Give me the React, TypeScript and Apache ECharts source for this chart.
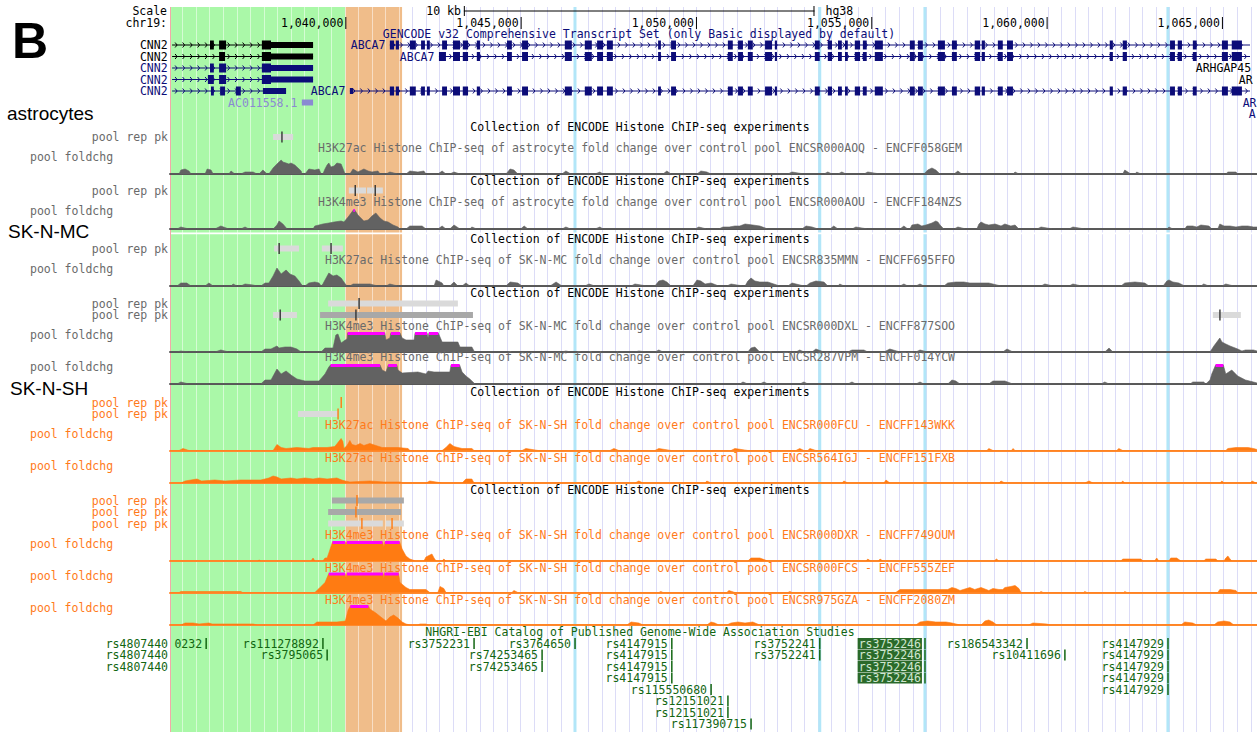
import React, { useEffect, useRef } from "react";
import * as echarts from "echarts";

// ---------------- DATA (chr19, hg38; positions in kb) ----------------
const VIEW_START_KB = 1035;
const VIEW_END_KB = 1066;
const RULER_TICKS_KB = [1040, 1045, 1050, 1055, 1060, 1065];
const SCALE_BAR_START_KB = 1043.38;
const SCALE_BAR_LENGTH_KB = 10;
const CHROM_LABEL = "chr19:";
const ASSEMBLY = "hg38";

const HIGHLIGHT_REGIONS = [
  { start: 1035.03, end: 1040.0, kind: "green" },
  { start: 1040.0, end: 1041.62, kind: "orange" },
];

// GENCODE v32 transcripts: exons as [start, end, coding(1)/utr(0)]
const ABCA7_5PRIME_EXONS = [
  [1041.27, 1041.39, 1], [1041.44, 1041.53, 1], [1041.84, 1042.01, 1], [1042.16, 1042.27, 1],
  [1042.33, 1042.41, 1], [1042.76, 1042.9, 1],
];
const ABCA7_SHARED_EXONS = [
  [1043.07, 1043.27, 1], [1043.35, 1043.5, 1], [1043.75, 1043.84, 1], [1044.61, 1044.75, 1],
  [1045.04, 1045.21, 1], [1046.26, 1046.46, 1], [1046.83, 1047.03, 1], [1047.18, 1047.35, 1],
  [1047.46, 1047.63, 1], [1048.92, 1049.0, 1], [1049.29, 1049.43, 1], [1050.91, 1051.05, 1],
  [1051.2, 1051.34, 1], [1051.48, 1051.62, 1], [1051.97, 1052.17, 1], [1052.25, 1052.31, 1],
  [1053.39, 1053.53, 1], [1053.76, 1053.88, 1], [1054.05, 1054.16, 1], [1054.25, 1054.33, 1],
  [1054.53, 1054.68, 1], [1054.76, 1054.87, 1], [1055.1, 1055.33, 1], [1056.1, 1056.24, 1],
  [1056.33, 1056.47, 1], [1056.9, 1057.1, 1], [1057.3, 1057.44, 1], [1057.95, 1058.1, 1],
  [1058.15, 1058.24, 1], [1058.61, 1058.75, 1], [1058.87, 1059.04, 1], [1061.8, 1061.89, 1],
  [1062.17, 1062.29, 1], [1063.52, 1063.66, 1], [1063.74, 1063.86, 1], [1064.17, 1064.28, 1],
  [1065.0, 1065.17, 1], [1065.28, 1065.57, 1],
];
const TRANSCRIPTS = [
  { name: "CNN2", row: 0, tag: "principal", start: 1035.06, end: 1039.08,
    exons: [[1036.14, 1036.25, 1], [1036.4, 1036.6, 1], [1037.62, 1037.88, 1], [1037.88, 1039.08, 0]] },
  { name: "CNN2", row: 1, tag: "principal", start: 1035.06, end: 1039.08,
    exons: [[1036.4, 1036.57, 1], [1037.62, 1037.88, 1], [1037.88, 1039.08, 0]] },
  { name: "CNN2", row: 2, tag: "basic", start: 1035.06, end: 1039.08,
    exons: [[1036.14, 1036.25, 1], [1036.4, 1036.6, 1], [1037.62, 1037.88, 1], [1037.88, 1039.08, 0]] },
  { name: "CNN2", row: 3, tag: "basic", start: 1035.06, end: 1039.08,
    exons: [[1036.08, 1036.25, 1], [1036.4, 1036.6, 1], [1037.62, 1037.88, 1], [1037.88, 1039.08, 0]] },
  { name: "CNN2", row: 4, tag: "basic", start: 1035.06, end: 1038.31,
    exons: [[1036.17, 1036.25, 1], [1036.43, 1036.57, 1], [1036.88, 1037.02, 1], [1037.65, 1038.31, 0]] },
  { name: "AC011558.1", row: 5, tag: "noncoding", start: 1038.76, end: 1039.08,
    exons: [[1038.76, 1039.08, 0]] },
  { name: "ABCA7", row: 0, tag: "basic", start: 1041.27, end: 1065.8,
    exons: [...ABCA7_5PRIME_EXONS, ...ABCA7_SHARED_EXONS] },
  { name: "ABCA7", row: 1, tag: "basic", start: 1042.67, end: 1065.8,
    exons: [[1042.67, 1042.87, 1], ...ABCA7_SHARED_EXONS] },
  { name: "ABCA7", row: 4, tag: "basic", start: 1040.13, end: 1065.8,
    exons: [[1040.13, 1040.22, 0], ...ABCA7_5PRIME_EXONS, ...ABCA7_SHARED_EXONS] },
  { name: "ARHGAP45", row: 2, tag: "principal", start: 1065.96, end: 1069, exons: [] },
  { name: "ARHGAP45", row: 3, tag: "principal", start: 1067.19, end: 1069, exons: [] },
  { name: "ARHGAP45", row: 5, tag: "basic", start: 1067.3, end: 1069, exons: [] },
  { name: "ARHGAP45", row: 6, tag: "basic", start: 1067.47, end: 1069, exons: [] },
];

// ENCODE histone ChIP-seq tracks
const TRACK_TITLES = [
  "H3K27ac Histone ChIP-seq of astrocyte fold change over control pool ENCSR000AOQ - ENCFF058GEM",
  "H3K4me3 Histone ChIP-seq of astrocyte fold change over control pool ENCSR000AOU - ENCFF184NZS",
  "H3K27ac Histone ChIP-seq of SK-N-MC fold change over control pool ENCSR835MMN - ENCFF695FFO",
  "H3K4me3 Histone ChIP-seq of SK-N-MC fold change over control pool ENCSR000DXL - ENCFF877SOO",
  "H3K4me3 Histone ChIP-seq of SK-N-MC fold change over control pool ENCSR287VPM - ENCFF014YCW",
  "H3K27ac Histone ChIP-seq of SK-N-SH fold change over control pool ENCSR000FCU - ENCFF143WKK",
  "H3K27ac Histone ChIP-seq of SK-N-SH fold change over control pool ENCSR564IGJ - ENCFF151FXB",
  "H3K4me3 Histone ChIP-seq of SK-N-SH fold change over control pool ENCSR000DXR - ENCFF749OUM",
  "H3K4me3 Histone ChIP-seq of SK-N-SH fold change over control pool ENCSR000FCS - ENCFF555ZEF",
  "H3K4me3 Histone ChIP-seq of SK-N-SH fold change over control pool ENCSR975GZA - ENCFF2080ZM",
];
const TRACK_CELL = ["astrocyte", "astrocyte", "SK-N-MC", "SK-N-MC", "SK-N-MC",
  "SK-N-SH", "SK-N-SH", "SK-N-SH", "SK-N-SH", "SK-N-SH"];
const CELL_GROUP_LABELS = ["astrocytes", "SK-N-MC", "SK-N-SH"];
const COLLECTION_TITLE = "Collection of ENCODE Histone ChIP-seq experiments";
const COLLECTION_START_TRACKS = [0, 1, 2, 3, 5, 7];
const SIGNAL_MAX = 19; // view limit of fold change

const SIG_1 = [[1035,0],[1035.26,0],[1035.31,4],[1035.43,5],[1035.54,3],[1035.6,0],[1036,0],[1036.06,5],[1036.17,4],[1036.23,0],[1036.68,0],[1036.74,3],[1036.85,0],[1037.02,0],[1037.14,2],[1037.37,2],[1037.48,0],[1037.54,0],[1037.65,4],[1037.77,0],[1037.82,0],[1037.94,6],[1038.05,10],[1038.17,14],[1038.22,12],[1038.31,11],[1038.39,10],[1038.45,11],[1038.56,9],[1038.62,7],[1038.74,3],[1038.76,0],[1038.85,0],[1038.96,5],[1039.13,4],[1039.25,5],[1039.31,0],[1039.36,0],[1039.42,5],[1039.48,9],[1039.53,11],[1039.59,7],[1039.68,8],[1039.76,11],[1039.88,10],[1039.96,3],[1039.99,0],[1040.13,0],[1040.22,5],[1040.36,2],[1040.53,5],[1040.65,3],[1040.76,2],[1040.93,3],[1040.99,0],[1041.16,0],[1041.27,2],[1041.5,0],[1041.73,0],[1041.84,3],[1042.07,2],[1042.24,3],[1042.3,0],[1042.64,0],[1042.76,3],[1042.87,0],[1042.98,0],[1043.1,2],[1043.27,0],[1044.58,0],[1044.7,5],[1044.81,4],[1044.92,0],[1046.18,0],[1046.29,3],[1046.43,0],[1047.12,0],[1047.26,2],[1047.35,0],[1049.06,0],[1049.17,3],[1049.29,0],[1050.03,0],[1050.14,3],[1050.31,2],[1050.43,0],[1052.62,0],[1052.74,2],[1053.08,0],[1053.65,0],[1053.76,2],[1053.88,0],[1054.05,0],[1054.16,2],[1054.28,0],[1054.79,0],[1054.9,2],[1055.25,0],[1056.5,0],[1056.61,4],[1056.73,6],[1056.84,4],[1056.96,0],[1057.36,0],[1057.47,3],[1057.58,0],[1059.04,0],[1059.1,2],[1059.21,0],[1062.17,0],[1062.23,4],[1062.4,0],[1062.52,0],[1062.57,2],[1062.69,0],[1065.11,0],[1065.17,2],[1065.4,2],[1065.45,0],[1066,0]];
const SIG_2 = [[1035,0],[1035.2,0],[1035.31,2],[1035.54,0],[1036.28,0],[1036.45,3],[1036.68,0],[1037.02,0],[1037.14,2],[1037.25,0],[1037.94,0],[1038.05,4],[1038.11,8],[1038.22,5],[1038.34,0],[1039.08,0],[1039.13,3],[1039.25,4],[1039.36,5],[1039.53,6],[1039.68,7],[1039.88,8],[1039.96,7],[1040.08,12],[1040.25,20],[1040.36,14],[1040.47,10],[1040.53,8],[1040.65,9],[1040.76,13],[1040.87,16],[1040.99,11],[1041.1,8],[1041.22,7],[1041.36,4],[1041.5,2],[1041.56,0],[1041.73,0],[1041.84,3],[1042.19,3],[1042.3,0],[1042.64,0],[1042.76,3],[1042.87,0],[1042.98,0],[1043.1,4],[1043.27,0],[1043.55,0],[1043.61,2],[1043.75,0],[1045,0],[1045.1,3],[1045.21,0],[1046.18,0],[1046.29,2],[1046.43,0],[1047.12,0],[1047.26,2],[1047.35,0],[1049.97,0],[1050.08,2],[1050.31,0],[1050.65,0],[1050.77,2],[1050.95,2],[1051.11,3],[1051.25,3],[1051.4,5],[1051.62,4],[1051.82,3],[1052.05,0],[1053.02,0],[1053.14,3],[1053.31,2],[1053.48,0],[1053.82,0],[1053.93,3],[1054.05,0],[1054.45,0],[1054.56,2],[1054.9,0],[1055.82,0],[1055.93,3],[1056.04,0],[1056.1,0],[1056.16,4],[1056.33,5],[1056.44,3],[1056.56,4],[1056.73,6],[1056.84,8],[1056.9,7],[1056.96,4],[1057.07,0],[1057.36,0],[1057.47,2],[1057.7,0],[1058.01,0],[1058.07,5],[1058.13,7],[1058.24,5],[1058.35,4],[1058.53,5],[1058.7,3],[1058.81,5],[1058.98,3],[1059.1,4],[1059.21,0],[1059.73,0],[1059.84,2],[1060.18,0],[1060.64,0],[1060.75,2],[1061.09,0],[1063.43,0],[1063.49,2],[1063.6,0],[1063.94,0],[1064,3],[1064.17,3],[1064.28,2],[1064.4,4],[1064.63,3],[1064.71,0],[1064.88,0],[1064.94,5],[1065.06,3],[1065.23,3],[1065.4,2],[1065.57,3],[1065.74,3],[1065.9,2],[1066,2]];
const SIG_3 = [[1035,0],[1035.2,0],[1035.31,3],[1035.48,3],[1035.6,0],[1036,0],[1036.11,3],[1036.23,0],[1036.74,0],[1036.8,2],[1036.91,0],[1037.02,0],[1037.14,2],[1037.37,1],[1037.48,0],[1037.59,0],[1037.71,3],[1037.82,3],[1037.94,10],[1038.05,18],[1038.17,12],[1038.31,16],[1038.42,12],[1038.56,10],[1038.68,5],[1038.76,1],[1038.8,0],[1038.85,0],[1038.96,3],[1039.13,4],[1039.25,3],[1039.31,0],[1039.36,2],[1039.42,6],[1039.53,13],[1039.65,10],[1039.76,11],[1039.88,8],[1040,2],[1040.05,0],[1040.13,0],[1040.22,2],[1040.7,2],[1040.93,0],[1041.16,0],[1041.27,2],[1041.5,0],[1042.53,0],[1042.59,6],[1042.76,3],[1042.81,0],[1042.98,0],[1043.1,4],[1043.21,0],[1043.33,0],[1043.44,3],[1043.55,0],[1044.58,0],[1044.7,4],[1044.92,3],[1045.04,0],[1045.84,0],[1046.01,4],[1046.18,0],[1046.83,0],[1046.95,2],[1047.12,0],[1048.15,0],[1048.26,2],[1048.6,0],[1048.83,0],[1048.94,5],[1049.06,6],[1049.17,4],[1049.29,0],[1049.91,0],[1050.03,6],[1050.14,5],[1050.26,2],[1050.43,3],[1050.65,0],[1050.88,0],[1051,2],[1051.34,0],[1051.4,0],[1051.48,5],[1051.57,8],[1051.68,5],[1051.82,4],[1052.05,4],[1052.39,0],[1052.62,0],[1052.74,3],[1053.08,0],[1053.14,0],[1053.25,3],[1053.42,5],[1053.65,4],[1053.76,0],[1054.05,0],[1054.1,2],[1054.22,0],[1055.82,0],[1055.93,2],[1056.04,0],[1056.27,0],[1056.39,2],[1056.5,0],[1057.07,0],[1057.18,3],[1057.41,4],[1057.64,4],[1057.81,3],[1058.13,3],[1058.35,3],[1058.7,0],[1059.84,0],[1059.95,2],[1060.18,0],[1060.64,0],[1060.75,2],[1061,0],[1062.12,0],[1062.23,3],[1062.52,4],[1062.8,3],[1062.92,0],[1063.32,0],[1063.43,5],[1063.49,6],[1063.6,4],[1063.77,3],[1063.94,0],[1064.4,0],[1064.48,2],[1064.63,0],[1065,0],[1065.11,2],[1065.34,0],[1066,0]];
const SIG_4 = [[1035,0],[1035.2,0],[1035.31,1],[1035.54,0],[1036.28,0],[1036.45,2],[1036.68,0],[1037.59,0],[1037.71,3],[1037.88,3],[1038.05,6],[1038.11,4],[1038.28,5],[1038.45,5],[1038.62,3],[1038.74,0],[1039.31,0],[1039.42,4],[1039.65,4],[1039.73,17],[1039.79,18],[1039.88,9],[1040,12],[1040.05,13],[1040.08,24],[1041.1,24],[1041.16,12],[1041.27,14],[1041.33,24],[1041.5,24],[1041.62,14],[1041.73,12],[1041.96,12],[1042.01,24],[1042.3,24],[1042.36,14],[1042.41,24],[1042.59,24],[1042.7,15],[1042.76,10],[1043.21,10],[1043.27,5],[1043.61,5],[1043.67,1],[1043.7,0],[1046.18,0],[1046.29,1],[1046.43,0],[1048.26,0],[1048.37,1],[1048.6,0],[1048.83,0],[1048.94,2],[1049.06,0],[1051.48,0],[1051.57,4],[1051.68,5],[1051.82,0],[1052.85,0],[1052.96,2],[1053.08,0],[1053.31,0],[1053.42,3],[1053.65,0],[1054.33,0],[1054.45,2],[1054.79,2],[1054.9,0],[1055.36,0],[1055.53,3],[1055.82,0],[1056.27,0],[1056.39,2],[1056.61,0],[1058.75,0],[1058.87,3],[1059.04,0],[1061.66,0],[1061.78,4],[1061.89,0],[1064.66,0],[1064.77,6],[1064.94,14],[1065,10],[1065.11,8],[1065.23,6],[1065.45,3],[1065.57,1],[1065.67,2],[1065.9,2],[1066,1]];
const SIG_5 = [[1035,0],[1035.2,0],[1035.31,2],[1035.54,0],[1037.59,0],[1037.71,4],[1037.88,4],[1038.05,15],[1038.17,10],[1038.31,13],[1038.45,9],[1038.62,5],[1038.85,3],[1039.25,3],[1039.42,10],[1039.53,17],[1039.7,24],[1040.93,24],[1041.05,14],[1041.16,12],[1041.27,24],[1041.44,24],[1041.5,14],[1041.62,11],[1042.07,12],[1042.3,10],[1042.36,13],[1042.53,12],[1042.98,12],[1043.04,24],[1043.21,24],[1043.33,12],[1043.44,8],[1043.55,5],[1043.67,1],[1043.7,0],[1051.25,0],[1051.34,2],[1051.48,0],[1051.82,0],[1051.94,2],[1052.05,0],[1052.96,0],[1053.08,2],[1053.19,0],[1054.33,0],[1054.45,2],[1054.56,0],[1056.27,0],[1056.39,2],[1056.5,0],[1057.18,0],[1057.3,4],[1057.41,3],[1057.53,0],[1058.35,0],[1058.47,3],[1058.81,3],[1059.04,0],[1061.55,0],[1061.66,2],[1061.78,0],[1064.09,0],[1064.17,2],[1064.48,2],[1064.54,0],[1064.66,4],[1064.71,10],[1064.88,24],[1065,24],[1065.11,10],[1065.28,14],[1065.45,8],[1065.67,4],[1065.9,2],[1066,1]];
const SIG_6 = [[1035,0],[1035.26,0],[1035.37,2],[1035.54,0],[1037.94,0],[1038.05,6],[1038.17,3],[1038.31,2],[1038.62,3],[1038.96,2],[1039.08,3],[1039.19,3],[1039.48,3],[1039.7,4],[1039.79,8],[1039.88,12],[1039.93,9],[1039.96,2],[1040.05,5],[1040.13,10],[1040.19,6],[1040.3,5],[1040.42,7],[1040.53,5],[1040.7,7],[1040.87,5],[1041.05,3],[1041.5,3],[1041.79,2],[1041.84,0],[1042.76,0],[1042.87,3],[1042.98,7],[1043.1,4],[1043.21,3],[1043.33,2],[1043.61,2],[1043.67,0],[1045.04,0],[1045.15,2],[1045.5,0],[1047.55,0],[1047.66,2],[1047.8,0],[1048.83,0],[1048.94,2],[1049.29,0],[1051,0],[1051.11,2],[1051.48,0],[1052.85,0],[1052.96,2],[1053.08,0],[1053.19,0],[1053.25,2],[1053.42,0],[1058.3,0],[1058.35,2],[1058.47,0],[1059,0],[1059.04,2],[1059.1,0],[1062,0],[1062.06,2],[1062.17,0],[1065.11,0],[1065.17,2],[1065.4,3],[1065.57,3],[1065.74,3],[1065.9,2],[1066,1]];
const SIG_7 = [[1035,0],[1035.31,0],[1035.43,2],[1035.77,4],[1035.9,2],[1036.28,3],[1036.57,2],[1037.02,3],[1037.25,3],[1037.59,3],[1037.82,5],[1037.94,7],[1038.05,6],[1038.17,4],[1038.45,5],[1038.62,4],[1038.85,5],[1039.08,4],[1039.25,5],[1039.48,4],[1039.76,5],[1039.9,3],[1040,2],[1040.13,1],[1040.7,2],[1041.1,1],[1041.56,1],[1041.62,0],[1042.3,0],[1042.41,2],[1042.76,0],[1043.33,0],[1043.44,4],[1043.61,4],[1043.67,0],[1048.26,0],[1048.37,2],[1048.49,0],[1050.26,0],[1050.31,2],[1050.43,0],[1054.16,0],[1054.22,2],[1054.33,0],[1055.36,0],[1055.42,3],[1055.53,0],[1058.64,0],[1058.7,2],[1058.81,0],[1061.09,0],[1061.21,2],[1061.32,0],[1062.12,0],[1062.17,2],[1062.23,0],[1064.94,0],[1065,2],[1065.06,0],[1065.8,0],[1065.86,2],[1065.97,0],[1066,0]];
const SIG_8 = [[1035,0],[1037.5,0],[1037.54,1],[1037.59,0],[1039.02,0],[1039.08,3],[1039.13,0],[1039.36,0],[1039.42,3],[1039.48,3],[1039.53,8],[1039.68,24],[1039.96,24],[1040.02,16],[1040.08,24],[1041.02,24],[1041.1,14],[1041.16,24],[1041.5,24],[1041.62,12],[1041.73,5],[1041.84,2],[1042,0],[1042.24,0],[1042.3,4],[1042.47,7],[1042.53,3],[1042.59,0],[1042.76,0],[1042.81,2],[1042.87,0],[1051.48,0],[1051.57,3],[1051.82,3],[1052.05,0],[1054.85,0],[1054.9,2],[1054.98,0],[1055.2,0],[1055.25,2],[1055.33,0],[1058.5,0],[1058.57,2],[1058.64,0],[1062.12,0],[1062.17,2],[1062.69,2],[1062.75,0],[1063.08,0],[1063.14,3],[1063.2,0],[1063.49,0],[1063.54,3],[1063.71,3],[1063.83,0],[1064.48,0],[1064.54,2],[1064.83,2],[1064.88,0],[1065.06,0],[1065.11,3],[1065.17,5],[1065.23,2],[1065.28,0],[1066,0]];
const SIG_9 = [[1035,0],[1035.26,0],[1035.31,1],[1037.02,1],[1037.07,0],[1039.13,0],[1039.19,2],[1039.25,4],[1039.42,10],[1039.59,24],[1039.96,24],[1040.02,15],[1040.08,24],[1041.05,24],[1041.1,14],[1041.13,24],[1041.5,24],[1041.56,10],[1041.73,5],[1041.84,3],[1042.3,3],[1042.41,0],[1042.64,0],[1042.7,6],[1042.81,4],[1042.87,0],[1044.75,0],[1044.81,2],[1044.92,0],[1048.94,0],[1049,1],[1049.06,0],[1050.88,0],[1050.94,2],[1051.11,0],[1052.62,0],[1052.68,1],[1052.74,0],[1055.7,0],[1055.82,3],[1056.27,3],[1056.61,3],[1057.01,3],[1057.18,3],[1057.3,5],[1057.41,4],[1057.53,2],[1057.81,5],[1057.95,3],[1058.13,5],[1058.35,2],[1058.47,4],[1058.64,3],[1058.75,3],[1058.81,5],[1058.98,6],[1059.1,7],[1059.21,4],[1059.27,0],[1059.8,0],[1059.84,1],[1059.9,0],[1061.05,0],[1061.09,1],[1061.15,0],[1062.2,0],[1062.23,1],[1062.29,0],[1064.88,0],[1064.94,3],[1065.23,3],[1065.4,2],[1065.45,0],[1066,0]];
const SIG_10 = [[1035,0],[1035.31,0],[1035.43,2],[1035.66,2],[1035.83,1],[1036.11,2],[1036.2,1],[1037.37,1],[1037.48,0],[1039.08,0],[1039.19,3],[1039.48,3],[1039.76,3],[1040,4],[1040.08,15],[1040.22,24],[1040.59,24],[1040.7,16],[1040.87,12],[1041.05,7],[1041.16,4],[1041.27,8],[1041.38,10],[1041.5,7],[1041.62,3],[1041.73,1],[1041.84,0],[1042.07,0],[1042.13,1],[1042.3,1],[1042.36,0],[1048.03,0],[1048.15,3],[1048.37,2],[1048.49,0],[1050.31,0],[1050.43,3],[1050.54,2],[1050.65,0],[1050.88,0],[1051,2],[1051.2,3],[1051.4,2],[1051.62,3],[1051.82,0],[1056.27,0],[1056.39,3],[1056.61,4],[1056.84,3],[1057.13,3],[1057.3,2],[1057.53,0],[1058.13,0],[1058.24,4],[1058.35,5],[1058.47,3],[1058.58,0],[1059.49,0],[1059.61,2],[1060,1],[1060.1,0],[1063.83,0],[1063.94,3],[1064.17,2],[1064.28,0],[1064.77,0],[1064.88,3],[1065.06,4],[1065.23,3],[1065.34,0],[1066,0]];
const SIGNALS = [SIG_1, SIG_2, SIG_3, SIG_4, SIG_5, SIG_6, SIG_7, SIG_8, SIG_9, SIG_10];

// replicated peaks: [track, lane, start, end, summit, strong]
const PEAKS = [
  [0, 0, 1037.94, 1038.51, 1038.19, 0],
  [1, 0, 1040.1, 1040.59, 1040.28, 0], [1, 0, 1040.62, 1041.07, 1040.85, 0],
  [2, 0, 1037.97, 1038.68, 1038.11, 0], [2, 0, 1039.33, 1039.93, 1039.59, 0],
  [3, 0, 1039.51, 1043.21, 1040.39, 0],
  [3, 1, 1037.94, 1038.62, 1038.14, 0], [3, 1, 1039.28, 1043.64, 1040.3, 1], [3, 1, 1064.74, 1065.54, 1064.94, 0],
  [5, 0, 1039.87, 1039.89, 1039.88, 0],
  [5, 1, 1038.65, 1039.79, 1039.79, 0],
  [7, 0, 1039.62, 1041.67, 1040.33, 1],
  [7, 1, 1039.51, 1041.59, 1040.3, 1],
  [7, 2, 1039.51, 1041.07, 1040.47, 0], [7, 2, 1041.16, 1041.67, 1041.33, 0],
];
const PEAK_LANE_LABEL = "pool rep pk";
const SIGNAL_LABEL = "pool foldchg";

// NHGRI-EBI GWAS catalog: [name, position kb, row]
const GWAS_TITLE = "NHGRI-EBI Catalog of Published Genome-Wide Association Studies";
const GWAS_HITS = [
  ["rs4807440", 1034.7, 0], ["rs4807440", 1034.7, 1], ["rs4807440", 1034.7, 2],
  ["0232", 1036.03, 0],
  ["rs111278892", 1039.36, 0], ["rs3795065", 1039.48, 1],
  ["rs3752231", 1043.67, 0], ["rs3764650", 1046.55, 0],
  ["rs74253465", 1045.61, 1], ["rs74253465", 1045.61, 2],
  ["rs4147915", 1049.31, 0], ["rs4147915", 1049.31, 1], ["rs4147915", 1049.31, 2], ["rs4147915", 1049.31, 3],
  ["rs115550680", 1050.43, 4], ["rs12151021", 1050.91, 5], ["rs12151021", 1050.91, 6],
  ["rs117390715", 1051.57, 7],
  ["rs3752241", 1053.53, 0], ["rs3752241", 1053.53, 1],
  ["rs3752246", 1056.53, 0], ["rs3752246", 1056.53, 1], ["rs3752246", 1056.53, 2], ["rs3752246", 1056.53, 3],
  ["rs186543342", 1059.44, 0], ["rs10411696", 1060.52, 1],
  ["rs4147929", 1063.46, 0], ["rs4147929", 1063.46, 1], ["rs4147929", 1063.46, 2], ["rs4147929", 1063.46, 3], ["rs4147929", 1063.46, 4],
];
const SELECTED_SNP = "rs3752246";
const HIGHLIGHTED_SNPS = ["rs3764650", "rs3752241", "rs3752246", "rs4147929"];

// ---------------- LAYOUT & STYLE ----------------
const W = 1257;
const H = 732;
const DATA_LEFT = 170;
const DATA_WIDTH = W - DATA_LEFT;
const LABEL_RIGHT = 168;
const HL_TOP = 7;
const GUIDE_FIRST = 182.7;
const GUIDE_STEP = 13.52;
const ROW_STEP = 11.5;
const GENE_ROW_Y = [45, 56.5, 68, 79.5, 91, 102.5, 114];
const TRACK_BASELINE = [174, 229, 286, 352, 384, 450.5, 483, 561, 592.5, 625];
const TRACK_H = 19;
const TITLE_Y = [148, 202, 260, 326, 357, 425, 457.5, 535, 567.5, 600];
const FOLD_LABEL_Y = [157, 211, 269, 335, 367, 433.5, 465.5, 543.5, 576, 608];
const COLLECTION_Y = [127, 181, 239, 293, 392, 490];
const PEAK_LANE_TOP: Record<number, number> = { 0: 137, 1: 190.5, 2: 248.5, 3: 303.5, 5: 402.5, 7: 500.5 };
const GROUP_LABEL_POS = [[7, 113], [8, 231.5], [10, 388]];
const GWAS_TITLE_Y = 632;
const GWAS_FIRST_ROW_Y = 643.5;
const CENTER_X = 640;
const SCALE_ROW_Y = 10.5;
const RULER_LABEL_Y = 22.5;
const GENCODE_TITLE_Y = 34;

const MONO = '"DejaVu Sans Mono", "Liberation Mono", monospace';
const SANS = '"Liberation Sans", Arial, Helvetica, sans-serif';
const FS = 11.5;
const CHAR_W = FS * 0.602;

const C = {
  green: "#aaf8a8",
  orange: "#f0bd8a",
  guide: "#dcdcf7",
  guideOnHl: "rgba(255,255,255,0.5)",
  snpLine: "#b2e6f8",
  edge: "#f2a8a8",
  grayFill: "#626262",
  grayText: "#6a6a6a",
  grayBase: "#585858",
  orangeFill: "#ff7b12",
  orangeText: "#ff7a1a",
  orangeBase: "#ff8a2e",
  saturated: "#ff00ff",
  navy: "#0c0c78",
  black: "#000000",
  noncoding: "#8a8ad2",
  gwas: "#126612",
  gwasSel: "#2a6a2a",
  peakLight: "#dadada",
  peakStrong: "#a8a8a8",
};
const GENE_COLORS: Record<string, string> = { principal: C.black, basic: C.navy, noncoding: C.noncoding };
const isOrange = (i: number) => TRACK_CELL[i] === "SK-N-SH";
const laneCount = (track: number) => PEAKS.reduce((m, p) => (p[0] === track ? Math.max(m, (p[1] as number) + 1) : m), 0);
const laneY = (track: number, lane: number) => PEAK_LANE_TOP[track] + lane * ROW_STEP;
const gwasRowY = (row: number) => GWAS_FIRST_ROW_Y + row * ROW_STEP;

function textStyle(text: string, x: number, y: number, fill: string, align = "left", size = FS, family = MONO, weight = "normal") {
  return {
    text, x, y, fill, fontSize: size, fontFamily: family, fontWeight: weight, lineHeight: size < 14 ? 11 : size,
    textAlign: align, align, textVerticalAlign: "middle", verticalAlign: "middle",
  };
}
function gText(text: string, x: number, y: number, fill: string, align = "left", size = FS, family = MONO, weight = "normal") {
  return { type: "text", z: 100, silent: true, style: textStyle(text, x, y, fill, align, size, family, weight) };
}

function saturatedRuns(pts: number[][], max: number) {
  const runs: number[][] = [];
  let cur: number[] | null = null;
  for (let i = 0; i < pts.length - 1; i++) {
    const [x0, y0] = pts[i];
    const [x1, y1] = pts[i + 1];
    let a: number | null = null;
    let b = 0;
    if (y0 >= max && y1 >= max) { a = x0; b = x1; }
    else if (y0 >= max && y1 < max) { a = x0; b = x0 + ((x1 - x0) * (y0 - max)) / (y0 - y1); }
    else if (y0 < max && y1 >= max) { a = x0 + ((x1 - x0) * (max - y0)) / (y1 - y0); b = x1; }
    if (a !== null) {
      if (cur && Math.abs(cur[1] - a) < 1e-9) cur[1] = b;
      else { cur = [a, b]; runs.push(cur); }
    }
  }
  return runs;
}

function buildOption() {
  const grid: any[] = [];
  const xAxis: any[] = [];
  const yAxis: any[] = [];
  const series: any[] = [];
  const kbToPx = (kb: number) => DATA_LEFT + ((kb - VIEW_START_KB) / (VIEW_END_KB - VIEW_START_KB)) * DATA_WIDTH;

  // 0: overlay grid (genomic x, pixel y)
  grid.push({ left: DATA_LEFT, width: DATA_WIDTH, top: 0, height: H });
  xAxis.push({ type: "value", gridIndex: 0, min: VIEW_START_KB, max: VIEW_END_KB, show: false });
  yAxis.push({ type: "value", gridIndex: 0, min: 0, max: H, inverse: true, show: false });

  // 1: base guidelines
  grid.push({ left: GUIDE_FIRST, width: W - GUIDE_FIRST, top: HL_TOP, height: H - HL_TOP });
  xAxis.push({
    type: "value", gridIndex: 1, min: 0, max: (W - GUIDE_FIRST) / GUIDE_STEP, interval: 1, z: 0,
    axisLine: { show: false }, axisTick: { show: false }, axisLabel: { show: false },
    splitLine: { show: true, lineStyle: { color: C.guide, width: 1 } },
  });
  yAxis.push({ type: "value", gridIndex: 1, show: false });

  // 2: guidelines over highlighted region
  const hlEnd = Math.max(...HIGHLIGHT_REGIONS.map((h) => h.end));
  const hlEndPx = kbToPx(hlEnd);
  grid.push({ left: GUIDE_FIRST, width: hlEndPx - GUIDE_FIRST, top: HL_TOP, height: H - HL_TOP });
  xAxis.push({
    type: "value", gridIndex: 2, min: 0, max: (hlEndPx - GUIDE_FIRST) / GUIDE_STEP, interval: 1, z: 2,
    axisLine: { show: false }, axisTick: { show: false }, axisLabel: { show: false },
    splitLine: { show: true, lineStyle: { color: C.guideOnHl, width: 1 } },
  });
  yAxis.push({ type: "value", gridIndex: 2, show: false });

  // highlight regions
  series.push({
    type: "custom", xAxisIndex: 0, yAxisIndex: 0, z: 1, silent: true,
    data: HIGHLIGHT_REGIONS.map((h) => [h.start, h.end]),
    renderItem: (params: any, api: any) => {
      const a = api.coord([api.value(0), HL_TOP]);
      const b = api.coord([api.value(1), H]);
      const kind = HIGHLIGHT_REGIONS[params.dataIndex].kind;
      return { type: "rect", shape: { x: a[0], y: a[1], width: b[0] - a[0], height: b[1] - a[1] }, style: { fill: (C as any)[kind] } };
    },
  });

  // highlighted SNP position lines
  const snpPositions = HIGHLIGHTED_SNPS.map((n) => (GWAS_HITS.find((g) => g[0] === n) as any)[1]);
  series.push({
    type: "custom", xAxisIndex: 0, yAxisIndex: 0, z: 1.5, silent: true,
    data: snpPositions.map((p) => [p, 0]),
    renderItem: (params: any, api: any) => {
      const a = api.coord([api.value(0), HL_TOP]);
      return { type: "rect", shape: { x: a[0] - 1.5, y: HL_TOP, width: 3, height: H - HL_TOP }, style: { fill: C.snpLine } };
    },
  });

  // ruler ticks + labels
  series.push({
    type: "custom", xAxisIndex: 0, yAxisIndex: 0, z: 6, silent: true,
    data: RULER_TICKS_KB.map((v) => [v, 0]),
    renderItem: (params: any, api: any) => {
      const v = api.value(0);
      const p = api.coord([v, 0]);
      const label = Math.round(v * 1000).toLocaleString("en-US");
      return {
        type: "group",
        children: [
          { type: "line", shape: { x1: p[0] + 0.5, y1: 17, x2: p[0] + 0.5, y2: 29 }, style: { stroke: "#000", lineWidth: 1 } },
          { type: "text", style: textStyle(label, p[0] - 2, RULER_LABEL_Y, "#000", "right") },
        ],
      };
    },
  });

  // scale bar
  series.push({
    type: "custom", xAxisIndex: 0, yAxisIndex: 0, z: 6, silent: true,
    data: [[SCALE_BAR_START_KB, SCALE_BAR_START_KB + SCALE_BAR_LENGTH_KB]],
    renderItem: (params: any, api: any) => {
      const a = api.coord([api.value(0), 0])[0];
      const b = api.coord([api.value(1), 0])[0];
      const y = SCALE_ROW_Y + 0.5;
      return {
        type: "group",
        children: [
          { type: "line", shape: { x1: a, y1: y, x2: b, y2: y }, style: { stroke: "#000", lineWidth: 1 } },
          { type: "line", shape: { x1: a + 0.5, y1: y - 5, x2: a + 0.5, y2: y + 5 }, style: { stroke: "#000", lineWidth: 1 } },
          { type: "line", shape: { x1: b - 0.5, y1: y - 5, x2: b - 0.5, y2: y + 5 }, style: { stroke: "#000", lineWidth: 1 } },
          { type: "text", style: textStyle(`${SCALE_BAR_LENGTH_KB} kb`, a - 3, SCALE_ROW_Y, "#000", "right") },
          { type: "text", style: textStyle(ASSEMBLY, b + 11, SCALE_ROW_Y, "#000", "left") },
        ],
      };
    },
  });

  // transcripts
  series.push({
    type: "custom", xAxisIndex: 0, yAxisIndex: 0, z: 6, silent: true,
    data: TRANSCRIPTS.map((t, i) => [t.start, t.end, i]),
    renderItem: (params: any, api: any) => {
      const t = TRANSCRIPTS[api.value(2)];
      const y = GENE_ROW_Y[t.row];
      const color = GENE_COLORS[t.tag];
      const xs = api.coord([t.start, 0])[0];
      const xe = api.coord([t.end, 0])[0];
      const viewL = api.coord([VIEW_START_KB, 0])[0];
      const viewR = api.coord([VIEW_END_KB, 0])[0];
      const children: any[] = [];
      if (t.exons.length) {
        children.push({ type: "line", shape: { x1: xs, y1: y, x2: xe, y2: y }, style: { stroke: color, lineWidth: 1 } });
        for (let x = Math.max(xs, viewL) + 5; x < Math.min(xe, viewR) - 2; x += 7.5) {
          children.push({ type: "polyline", shape: { points: [[x - 2, y - 2.5], [x, y], [x - 2, y + 2.5]] }, style: { stroke: color, fill: null, lineWidth: 1 } });
        }
        t.exons.forEach((ex: number[]) => {
          const a = api.coord([ex[0], 0])[0];
          const b = api.coord([ex[1], 0])[0];
          const h = ex[2] ? 9 : 6;
          children.push({ type: "rect", shape: { x: a, y: y - h / 2, width: Math.max(b - a, 1.5), height: h }, style: { fill: color } });
        });
      }
      // label sits left of the item; truncated at the right edge of the view
      const right = xs - 4.5;
      const left = right - t.name.length * CHAR_W;
      const fit = Math.floor((viewR - left) / CHAR_W + 0.05);
      const shown = fit >= t.name.length ? t.name : t.name.slice(0, Math.max(fit, 1));
      children.push({ type: "text", style: textStyle(shown, left, y, color, "left") });
      return { type: "group", children };
    },
  });

  // peaks
  series.push({
    type: "custom", xAxisIndex: 0, yAxisIndex: 0, z: 6, silent: true,
    data: PEAKS.map((p) => [p[2], p[3], p[4], p[5], p[0], p[1]]),
    renderItem: (params: any, api: any) => {
      const track = api.value(4);
      const y = laneY(track, api.value(5));
      const a = api.coord([api.value(0), 0])[0];
      const b = api.coord([api.value(1), 0])[0];
      const s = api.coord([api.value(2), 0])[0];
      const strong = api.value(3) === 1;
      return {
        type: "group",
        children: [
          { type: "rect", shape: { x: a, y: y - 3, width: Math.max(b - a, 0.5), height: 6 }, style: { fill: strong ? C.peakStrong : C.peakLight } },
          { type: "rect", shape: { x: s - 0.6, y: y - 5.5, width: 1.4, height: 11 }, style: { fill: isOrange(track) ? C.orangeFill : "#333" } },
        ],
      };
    },
  });

  // GWAS hits
  series.push({
    type: "custom", xAxisIndex: 0, yAxisIndex: 0, z: 6, silent: true,
    data: GWAS_HITS.map((g, i) => [g[1], g[2], i]),
    renderItem: (params: any, api: any) => {
      const g = GWAS_HITS[api.value(2)];
      const name = g[0] as string;
      const y = gwasRowY(api.value(1));
      const x = api.coord([api.value(0), 0])[0];
      const viewL = api.coord([VIEW_START_KB, 0])[0];
      const children: any[] = [];
      const inView = x >= viewL;
      const right = inView ? x - 4 : LABEL_RIGHT;
      const selected = name === SELECTED_SNP;
      if (selected) {
        const w = name.length * CHAR_W;
        children.push({ type: "rect", shape: { x: right - w - 1, y: y - 5.5, width: w + 2, height: 11 }, style: { fill: C.gwasSel } });
      }
      if (inView) children.push({ type: "rect", shape: { x: x - 0.7, y: y - 5.5, width: 1.5, height: 11 }, style: { fill: C.gwas } });
      children.push({ type: "text", style: textStyle(name, right, y, selected ? "#cfe6cf" : C.gwas, "right") });
      return { type: "group", children };
    },
  });

  // signal tracks
  SIGNALS.forEach((data, i) => {
    const gi = grid.length;
    const orange = isOrange(i);
    grid.push({ left: DATA_LEFT, width: DATA_WIDTH, top: TRACK_BASELINE[i] - TRACK_H, height: TRACK_H });
    xAxis.push({
      type: "value", gridIndex: gi, min: VIEW_START_KB, max: VIEW_END_KB, z: 3,
      axisLine: { show: true, lineStyle: { color: orange ? C.orangeBase : C.grayBase, width: 2 } },
      axisTick: { show: false }, axisLabel: { show: false }, splitLine: { show: false },
    });
    yAxis.push({ type: "value", gridIndex: gi, min: 0, max: SIGNAL_MAX, show: false });
    const fill = orange ? C.orangeFill : C.grayFill;
    series.push({
      type: "line", xAxisIndex: gi, yAxisIndex: gi, data, z: 4, silent: true,
      symbol: "none", showSymbol: false, smooth: false, clip: true,
      lineStyle: { width: 0.6, color: fill }, areaStyle: { color: fill, opacity: 1 },
    });
    series.push({
      type: "custom", xAxisIndex: gi, yAxisIndex: gi, z: 5, silent: true,
      data: saturatedRuns(data, SIGNAL_MAX),
      renderItem: (params: any, api: any) => {
        const a = api.coord([api.value(0), SIGNAL_MAX]);
        const b = api.coord([api.value(1), SIGNAL_MAX]);
        return { type: "rect", shape: { x: a[0], y: a[1] - 1, width: Math.max(b[0] - a[0], 1.5), height: 3 }, style: { fill: C.saturated } };
      },
    });
  });

  // ---------- text graphics ----------
  const g: any[] = [];
  g.push({ type: "rect", z: 3, silent: true, shape: { x: DATA_LEFT, y: 232.5, width: DATA_WIDTH, height: 1.8 }, style: { fill: "#ffffff" } });
  g.push({ type: "rect", z: 3, silent: true, shape: { x: DATA_LEFT, y: HL_TOP, width: 1, height: H - HL_TOP }, style: { fill: C.edge } });
  g.push(gText("B", 12, 41, "#000", "left", 50, SANS, "bold"));
  g.push(gText("Scale", 167, SCALE_ROW_Y, "#000", "right"));
  g.push(gText(CHROM_LABEL, 167, RULER_LABEL_Y, "#000", "right"));
  g.push(gText("GENCODE v32 Comprehensive Transcript Set (only Basic displayed by default)", 639, GENCODE_TITLE_Y, C.navy, "center"));
  CELL_GROUP_LABELS.forEach((t, i) => g.push(gText(t, GROUP_LABEL_POS[i][0], GROUP_LABEL_POS[i][1], "#000", "left", 19, SANS)));
  COLLECTION_START_TRACKS.forEach((ti, k) => g.push(gText(COLLECTION_TITLE, CENTER_X, COLLECTION_Y[k], "#000", "center")));
  TRACK_TITLES.forEach((t, i) => {
    const col = isOrange(i) ? C.orangeText : C.grayText;
    g.push(gText(t, CENTER_X, TITLE_Y[i], col, "center"));
    g.push(gText(SIGNAL_LABEL, 30, FOLD_LABEL_Y[i], col, "left"));
    for (let l = 0; l < laneCount(i); l++) g.push(gText(PEAK_LANE_LABEL, LABEL_RIGHT, laneY(i, l), col, "right"));
  });
  g.push(gText(GWAS_TITLE, CENTER_X, GWAS_TITLE_Y, C.gwas, "center"));

  return {
    animation: false,
    backgroundColor: "#ffffff",
    grid, xAxis, yAxis, series,
    graphic: { elements: g },
  };
}

export default function App() {
  const ref = useRef<HTMLDivElement>(null);
  useEffect(() => {
    if (!ref.current) return;
    const chart = echarts.init(ref.current, null, { renderer: "svg", width: W, height: H });
    chart.setOption(buildOption());
    return () => chart.dispose();
  }, []);
  return <div ref={ref} style={{ position: "fixed", left: 0, top: 0, width: W, height: H, background: "#fff" }} />;
}
